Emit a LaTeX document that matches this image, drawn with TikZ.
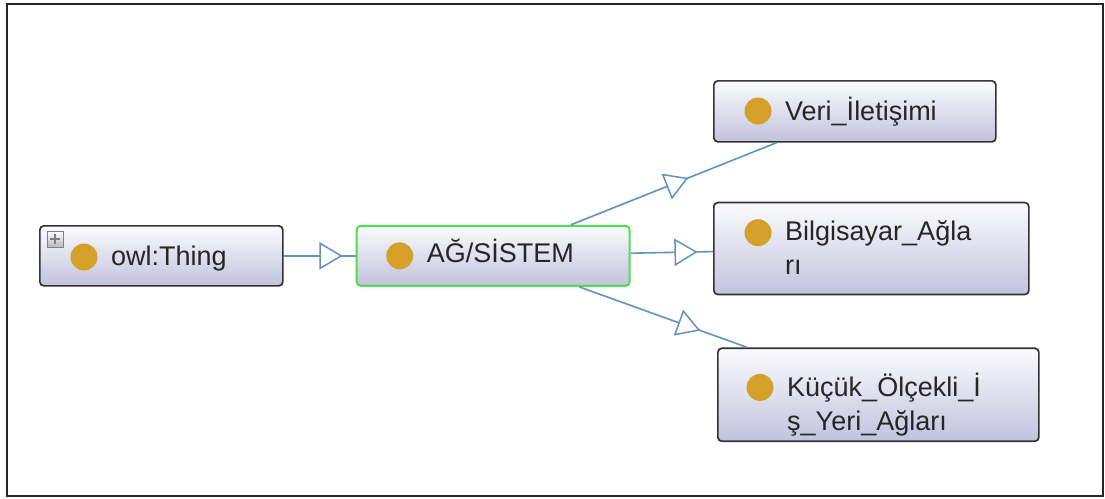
\documentclass[tikz,border=0pt]{standalone}
\usepackage{fontspec}
\setmainfont{Liberation Sans}
\usepackage{tikz}
\usetikzlibrary {calc,
                 positioning,
                 shapes.geometric}
\definecolor{linkblue}{RGB}{98,145,196}
\definecolor{dotgold}{RGB}{212,160,42}
\definecolor{boxtop}{RGB}{251,251,254}
\definecolor{boxbot}{RGB}{194,194,222}
\definecolor{boxline}{RGB}{50,50,55}
\definecolor{selgreen}{RGB}{80,222,80}
\tikzset{
        cls/.style={draw=boxline, line width=1.7pt, rounded corners=4pt,
                    top color=boxtop, bottom color=boxbot, inner sep=0pt,
                    anchor=north west},
        sel/.style={cls, draw=selgreen, line width=2pt},
        dot/.style={circle, fill=dotgold, minimum size=27pt, inner sep=0pt},
        lbl/.style={anchor=base west, inner sep=0pt, align=left,
                    font=\fontsize{27}{34}\selectfont, text=black!85},
        isa/.style={draw=linkblue, line width=1.6pt},
        tri/.style={isosceles triangle, isosceles triangle stretches,
                    minimum width=25pt, minimum height=21pt, inner sep=0pt,
                    draw=linkblue, line width=1.5pt, fill=white, sloped},
        expander/.style={draw=gray, line width=0.8pt, top color=white,
                    bottom color=gray!55, minimum size=16pt, inner sep=0pt,
                    path picture={
                        % kleines Plus-Zeichen
                        \draw[line width=1.6pt]
                        (path picture bounding box.center) +(-5pt,0) -- +(5pt,0)
                        (path picture bounding box.center) +(0,-5pt) -- +(0,5pt);
                    }},
 }

\begin{document}
\begin{tikzpicture}[x=1pt, y=-1pt]
        \useasboundingbox (0,0) rectangle (1105,498);
        \draw[line width=2pt, draw=black!85] (7,4) rectangle (1103,496);

        \node[cls, minimum width=243pt, minimum height=60pt] (thing) at (39,225) {};
        \node[sel, minimum width=273pt, minimum height=60pt,
              right = 72pt of thing, anchor=west] (sistem) {};
        \node[cls, minimum width=282pt, minimum height=61pt] (veri) at (713,80) {};
        \node[cls, minimum width=315pt, minimum height=92pt,
              below = 59pt of veri.south west, anchor=north west] (bilgi) {};
        \node[cls, minimum width=321pt, minimum height=93pt,
              below = 52pt of bilgi.south west, anchor=north west,
              xshift=4pt] (kucuk) {};

        \node[expander] (thing-x) at ([xshift=16pt, yshift=-14pt]thing.north west) {};

        \node[dot] (thing-d) at ([xshift=45pt, yshift=-32pt]thing.north west) {};
        \node[dot] (sistem-d) at ([xshift=44pt, yshift=-31pt]sistem.north west) {};
        \node[dot] (veri-d) at ([xshift=45pt, yshift=-31pt]veri.north west) {};
        \node[dot] (bilgi-d) at ([xshift=45pt, yshift=-31pt]bilgi.north west) {};
        \node[dot] (kucuk-d) at ([xshift=43pt, yshift=-40pt]kucuk.north west) {};

        % base anchor sits on the last line
        \node[lbl] (thing-t) at ([xshift=27pt, yshift=-8pt]thing-d.center) {owl:Thing};
        \node[lbl] (sistem-t) at ([xshift=27pt, yshift=-7pt]sistem-d.center) {AĞ/SİSTEM};
        \node[lbl] (veri-t) at ([xshift=27pt, yshift=-9pt]veri-d.center) {Veri\_İletişimi};
        \node[lbl] (bilgi-t) at ([xshift=27pt, yshift=-42pt]bilgi-d.center)
              {Bilgisayar\_Ağla\\rı};
        \node[lbl] (kucuk-t) at ([xshift=27pt, yshift=-43pt]kucuk-d.center)
              {Küçük\_Ölçekli\_İ\\ş\_Yeri\_Ağları};

        \draw[isa] (thing) -- (sistem);
        \draw[isa] (sistem) -- (veri);
        \draw[isa] (sistem) -- (bilgi);
        \draw[isa] (sistem) -- (kucuk);

        \path (thing.center) -- node[tri] (a1) {} (sistem.center);
        \path (sistem.center) -- node[tri] (a2) {} (veri.center);
        \path (sistem.center) -- node[tri] (a3) {} (bilgi.center);
        \path (sistem.center) -- node[tri] (a4) {} (kucuk.center);

\end{tikzpicture}
\end{document}
